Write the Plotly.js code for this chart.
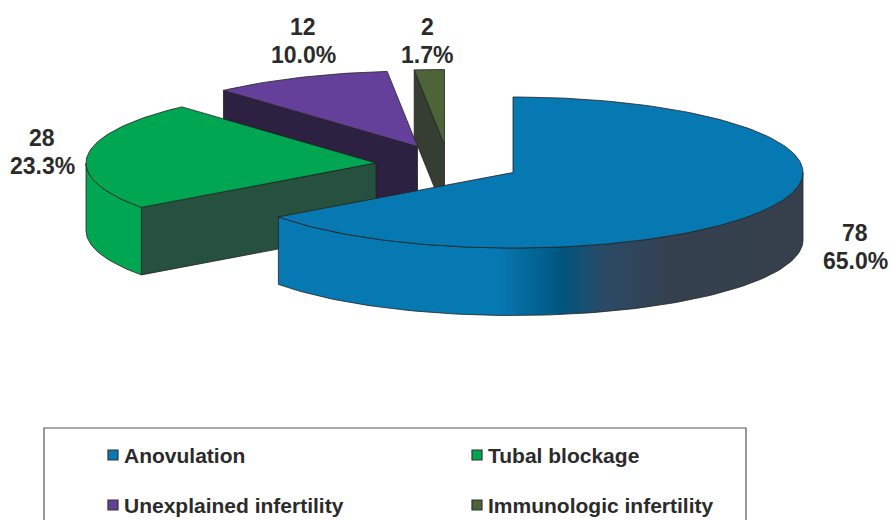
<!DOCTYPE html>
<html>
<head>
<meta charset="utf-8">
<script src="https://cdn.plot.ly/plotly-3.0.1.min.js"></script>
<style>html,body{margin:0;padding:0;background:#fff}#chart{width:891px;height:520px}</style>
</head>
<body>
<div id="chart"></div>
<script>
const categories = ["Anovulation", "Tubal blockage", "Unexplained infertility", "Immunologic infertility"];
const counts = [78, 28, 12, 2];
const topColors = ["#0679b3", "#00a651", "#65409a", "#4d6338"];
const faceColors = ["#0679b3", "#27513f", "#2c2140", "#363d33"];
const outerColors = ["#0679b3", "#00a651", "#2c2140", "#363d33"];

// pie drawing geometry, in the axis units of the page
const RX = 290, RY = 75.5, DEPTH = 67.5;
const apexes = [[513, 172.5], [376, 163], [417.5, 146.5], [444.5, 145]];
const legendCells = [[113, 455], [477, 455], [113, 505], [477, 505]];
const labelSpots = [[855, 247], [42, 152], [303, 41], [427, 41]];

const total = counts.reduce((a, b) => a + b, 0);
const rad = d => d * Math.PI / 180;
const pt = (c, deg, dz) => [c[0] + RX * Math.sin(rad(deg)), c[1] - RY * Math.cos(rad(deg)) + (dz || 0)];
function arc(c, a0, a1, dz) {
  const out = [], n = Math.max(2, Math.ceil((a1 - a0) / 1.5));
  for (let i = 0; i <= n; i++) out.push(pt(c, a0 + (a1 - a0) * i / n, dz));
  return out;
}
function poly(points, color, extra) {
  return Object.assign({
    type: "scatter", mode: "lines", fill: "toself", fillcolor: color,
    x: points.map(p => p[0]), y: points.map(p => p[1]),
    line: {color: "#222", width: 0.8}, hoverinfo: "skip", showlegend: false
  }, extra || {});
}

const traces = [];
let angles = [], acc = 0;
counts.forEach(v => { angles.push([acc, acc + v / total * 360]); acc += v / total * 360; });

// back-most slice first, front-most last
[3, 2, 1, 0].forEach(i => {
  const [a0, a1] = angles[i], c = apexes[i];
  if (Math.sin(rad(a0)) < -1e-6) {
    const p = pt(c, a0);
    traces.push(poly([c, p, [p[0], p[1] + DEPTH], [c[0], c[1] + DEPTH], c], faceColors[i]));
  }
  const lo = Math.max(a0, 90), hi = Math.min(a1, 270);
  if (hi > lo) {
    const top = arc(c, lo, hi, 0), bot = arc(c, lo, hi, DEPTH).reverse();
    const extra = i === 0 ? {
      fillgradient: {type: "horizontal", start: 278, stop: 803, colorscale: [
        [0, "#0679b3"], [0.42, "#0679b3"], [0.54, "#00557f"], [0.62, "#2a4a66"], [0.75, "#35404e"], [1, "#36404d"]
      ]}
    } : {};
    traces.push(poly(top.concat(bot, [top[0]]), outerColors[i], extra));
  }
  traces.push(poly([c].concat(arc(c, a0, a1, 0), [c]), topColors[i]));
});

categories.forEach((name, i) => {
  traces.push({
    type: "scatter", mode: "markers", name: name,
    x: [legendCells[i][0]], y: [legendCells[i][1]],
    marker: {symbol: "square", size: 10, color: topColors[i], line: {color: "#333", width: 1.2}},
    hoverinfo: "name", showlegend: false
  });
});

const annotations = [];
const labelFont = {family: "Liberation Sans, Arial, sans-serif", size: 23, color: "#2b2b2b"};
counts.forEach((v, i) => {
  annotations.push({
    x: labelSpots[i][0], y: labelSpots[i][1] - 14, xref: "x", yref: "y",
    text: "<b>" + v + "</b>", showarrow: false, font: labelFont,
    xanchor: "center", yanchor: "middle"
  });
  annotations.push({
    x: labelSpots[i][0], y: labelSpots[i][1] + 14, xref: "x", yref: "y",
    text: "<b>" + (v / total * 100).toFixed(1) + "%</b>", showarrow: false, font: labelFont,
    xanchor: "center", yanchor: "middle"
  });
});
categories.forEach((name, i) => {
  annotations.push({
    x: legendCells[i][0] + 9, y: legendCells[i][1], xref: "x", yref: "y",
    text: "<b>" + name + "</b>", showarrow: false,
    font: {family: "Liberation Sans, Arial, sans-serif", size: 21, color: "#2b2b2b"},
    xanchor: "left", yanchor: "middle"
  });
});

const layout = {
  width: 891, height: 520,
  margin: {l: 0, r: 0, t: 0, b: 0},
  paper_bgcolor: "#fff", plot_bgcolor: "#fff",
  showlegend: false,
  xaxis: {range: [0, 891], visible: false, fixedrange: true},
  yaxis: {range: [520, 0], visible: false, fixedrange: true},
  shapes: [{type: "rect", xref: "x", yref: "y", x0: 44, x1: 746, y0: 428, y1: 530,
            line: {color: "#555", width: 1.2}, fillcolor: "rgba(0,0,0,0)", layer: "below"}],
  annotations: annotations
};
Plotly.newPlot("chart", traces, layout, {displayModeBar: false, staticPlot: true});
</script>
</body>
</html>
